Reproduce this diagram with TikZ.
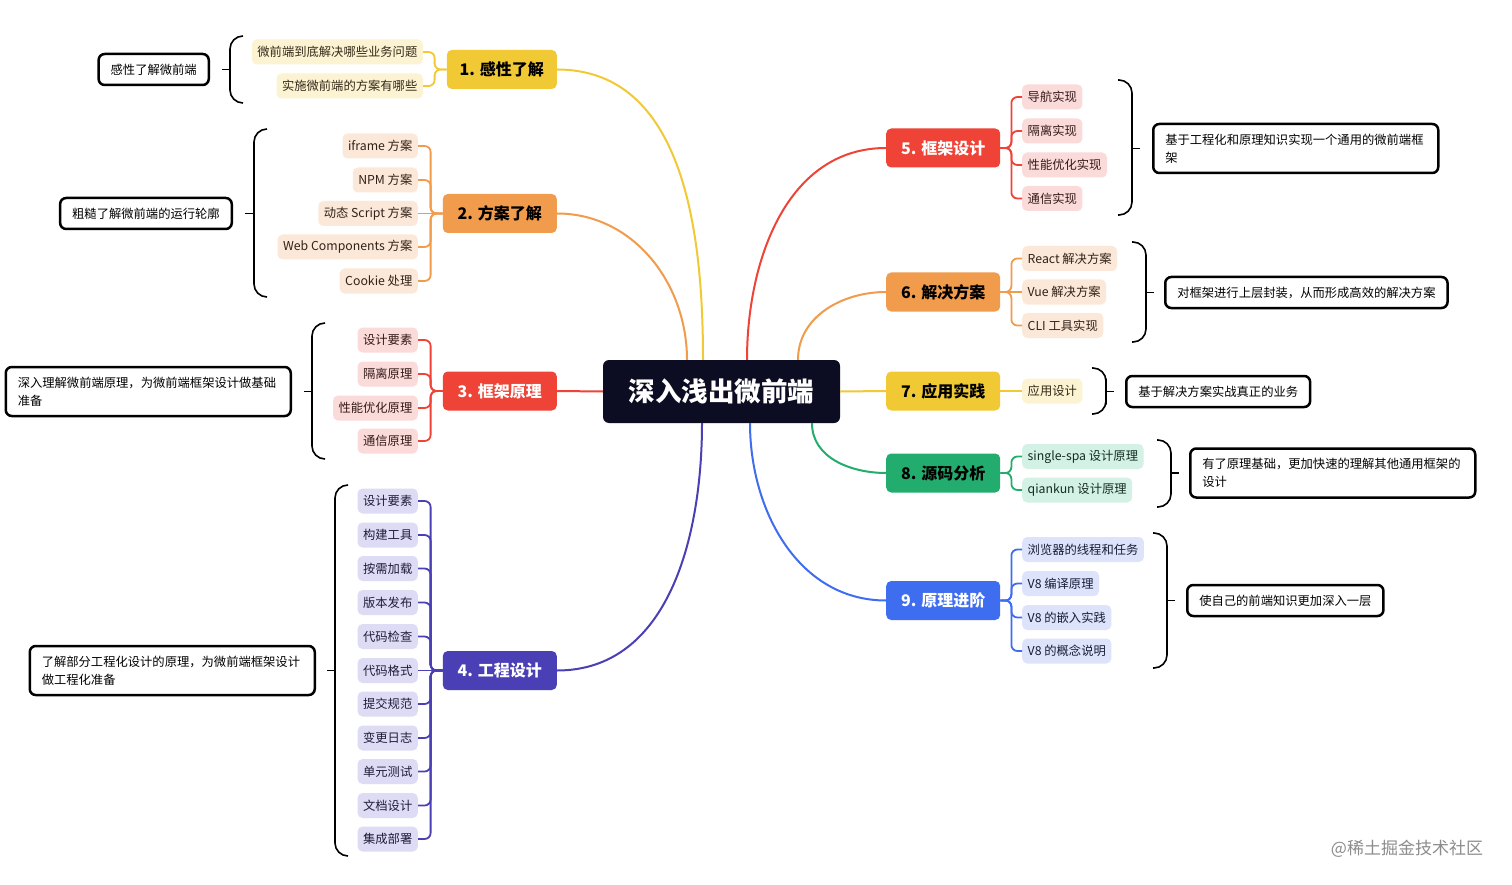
\documentclass[tikz,border=0pt]{standalone}
\usepackage{fontspec}
\setmainfont{Noto Sans CJK SC}
\usetikzlibrary{positioning}
\definecolor{ink}{RGB}{12,12,34}
\definecolor{cyel}{RGB}{241,201,52}
\definecolor{cora}{RGB}{241,155,76}
\definecolor{cred}{RGB}{238,67,54}
\definecolor{cind}{RGB}{74,63,181}
\definecolor{cgrn}{RGB}{34,173,110}
\definecolor{cblu}{RGB}{63,109,240}
\definecolor{lyel}{RGB}{252,243,211}
\definecolor{lora}{RGB}{252,232,216}
\definecolor{lred}{RGB}{251,218,218}
\definecolor{lind}{RGB}{222,220,245}
\definecolor{lgrn}{RGB}{211,241,228}
\definecolor{lblu}{RGB}{220,227,251}
\definecolor{dyel}{RGB}{50,42,24}
\definecolor{dora}{RGB}{48,34,24}
\definecolor{dred}{RGB}{52,26,26}
\definecolor{dind}{RGB}{30,28,56}
\definecolor{dgrn}{RGB}{22,44,34}
\definecolor{dblu}{RGB}{24,30,56}
\begin{document}
\begin{tikzpicture}[x=1pt,y=-1pt,
 rt/.style={fill=ink,text=white,rounded corners=6pt,minimum width=237pt,minimum height=63pt,font=\fontsize{26.5}{30}\selectfont\bfseries},
 tp/.style 2 args={fill=#1,text=#2,rounded corners=5pt,minimum width=114pt,minimum height=39pt,font=\fontsize{16}{19}\selectfont\bfseries},
 sb/.style 2 args={fill=#1,text=#2,rounded corners=5pt,inner xsep=5.5pt,inner ysep=0pt,minimum height=25pt,font=\fontsize{12.3}{15}\selectfont},
 sm/.style={draw=black,line width=2.5pt,rounded corners=6pt,fill=white,align=left,inner xsep=12pt,minimum height=31pt,font=\fontsize{12.3}{18}\selectfont},
 sw/.style={sm,text width=261pt,minimum height=49pt},
 ln/.style={draw=#1,line width=2pt},
 lk/.style={draw=#1,line width=1.8pt,rounded corners=6pt},
 br/.style={draw=black,line width=1.6pt,rounded corners=13pt}]
\fill[white] (0,0) rectangle (1512,885);
\useasboundingbox (0,0) rectangle (1512,885);
% root
\node[rt] (root) at (721.5,391.5) {深入浅出微前端};
% topics, left
\node[tp={cyel}{black},anchor=east,minimum width=110pt] (t1) at (557,69.5) {1. 感性了解};
\node[tp={cora}{black},anchor=east] (t2) at (557,213.5) {2. 方案了解};
\node[tp={cred}{white},anchor=east] (t3) at (557,391) {3. 框架原理};
\node[tp={cind}{white},anchor=east] (t4) at (557,670.5) {4. 工程设计};
% topics, right
\node[tp={cred}{white},anchor=west] (t5) at (886,148) {5. 框架设计};
\node[tp={cora}{black},anchor=west] (t6) at (886,292) {6. 解决方案};
\node[tp={cyel}{black},anchor=west] (t7) at (886,391) {7. 应用实践};
\node[tp={cgrn}{black},anchor=west] (t8) at (886,473) {8. 源码分析};
\node[tp={cblu}{white},anchor=west] (t9) at (886,600.5) {9. 原理进阶};
\draw[ln=cyel]([xshift=-18.5pt]root.north) to[out=90,in=0] (t1.east);
\draw[ln=cora]([xshift=-34.5pt]root.north) to[out=90,in=0] (t2.east);
\draw[ln=cred](root.west) -- (t3.east);
\draw[ln=cind]([xshift=-19.5pt]root.south) to[out=-90,in=0] (t4.east);
\draw[ln=cred]([xshift=25.5pt]root.north) to[out=90,in=180] (t5.west);
\draw[ln=cora]([xshift=76.5pt]root.north) to[out=90,in=180] (t6.west);
\draw[ln=cyel](root.east) -- (t7.west);
\draw[ln=cgrn]([xshift=90.5pt]root.south) to[out=-90,in=180] (t8.west);
\draw[ln=cblu]([xshift=28.5pt]root.south) to[out=-90,in=180] (t9.west);
% branch 1
\node[sb={lyel}{dyel},anchor=east] (c11) at (423,52) {微前端到底解决哪些业务问题};
\node[sb={lyel}{dyel},anchor=east] (c12) at (423,86) {实施微前端的方案有哪些};
\draw[lk=cyel](t1.west) -- ++(-12,0) |- (c11.east);\draw[lk=cyel](t1.west) -- ++(-12,0) |- (c12.east);
% branch 2
\node[sb={lora}{dora},anchor=east] (c21) at (418,146) {iframe 方案};
\node[sb={lora}{dora},anchor=east] (c22) at (418,180) {NPM 方案};
\node[sb={lora}{dora},anchor=east] (c23) at (418,213.5) {动态 Script 方案};
\node[sb={lora}{dora},anchor=east] (c24) at (418,247) {Web Components 方案};
\node[sb={lora}{dora},anchor=east] (c25) at (418,281) {Cookie 处理};
\draw[lk=cora](t2.west) -- ++(-12,0) |- (c21.east);\draw[lk=cora](t2.west) -- ++(-12,0) |- (c22.east);
\draw[lk=cora](t2.west) -- (c23.east);
\draw[lk=cora](t2.west) -- ++(-12,0) |- (c24.east);\draw[lk=cora](t2.west) -- ++(-12,0) |- (c25.east);
% branch 3
\node[sb={lred}{dred},anchor=east] (c31) at (418,340) {设计要素};
\node[sb={lred}{dred},anchor=east] (c32) at (418,374) {隔离原理};
\node[sb={lred}{dred},anchor=east] (c33) at (418,408) {性能优化原理};
\node[sb={lred}{dred},anchor=east] (c34) at (418,441) {通信原理};
\draw[lk=cred](t3.west) -- ++(-12,0) |- (c31.east);\draw[lk=cred](t3.west) -- ++(-12,0) |- (c32.east);
\draw[lk=cred](t3.west) -- ++(-12,0) |- (c33.east);\draw[lk=cred](t3.west) -- ++(-12,0) |- (c34.east);
% branch 4
\node[sb={lind}{dind},anchor=east] (c41) at (418,501) {设计要素};
\node[sb={lind}{dind},anchor=east] (c42) at (418,535) {构建工具};
\node[sb={lind}{dind},anchor=east] (c43) at (418,568.5) {按需加载};
\node[sb={lind}{dind},anchor=east] (c44) at (418,602.5) {版本发布};
\node[sb={lind}{dind},anchor=east] (c45) at (418,636.5) {代码检查};
\node[sb={lind}{dind},anchor=east] (c46) at (418,670.5) {代码格式};
\node[sb={lind}{dind},anchor=east] (c47) at (418,704) {提交规范};
\node[sb={lind}{dind},anchor=east] (c48) at (418,738) {变更日志};
\node[sb={lind}{dind},anchor=east] (c49) at (418,771.5) {单元测试};
\node[sb={lind}{dind},anchor=east] (c410) at (418,805.5) {文档设计};
\node[sb={lind}{dind},anchor=east] (c411) at (418,839) {集成部署};
\draw[lk=cind](t4.west) -- ++(-12,0) |- (c41.east);\draw[lk=cind](t4.west) -- ++(-12,0) |- (c42.east);
\draw[lk=cind](t4.west) -- ++(-12,0) |- (c43.east);\draw[lk=cind](t4.west) -- ++(-12,0) |- (c44.east);
\draw[lk=cind](t4.west) -- ++(-12,0) |- (c45.east);\draw[lk=cind](t4.west) -- (c46.east);
\draw[lk=cind](t4.west) -- ++(-12,0) |- (c47.east);\draw[lk=cind](t4.west) -- ++(-12,0) |- (c48.east);
\draw[lk=cind](t4.west) -- ++(-12,0) |- (c49.east);\draw[lk=cind](t4.west) -- ++(-12,0) |- (c410.east);
\draw[lk=cind](t4.west) -- ++(-12,0) |- (c411.east);
% branch 5
\node[sb={lred}{dred},anchor=west] (c51) at (1022,97) {导航实现};
\node[sb={lred}{dred},anchor=west] (c52) at (1022,131) {隔离实现};
\node[sb={lred}{dred},anchor=west] (c53) at (1022,165) {性能优化实现};
\node[sb={lred}{dred},anchor=west] (c54) at (1022,198.5) {通信实现};
\draw[lk=cred](t5.east) -- ++(11,0) |- (c51.west);\draw[lk=cred](t5.east) -- ++(11,0) |- (c52.west);
\draw[lk=cred](t5.east) -- ++(11,0) |- (c53.west);\draw[lk=cred](t5.east) -- ++(11,0) |- (c54.west);
% branch 6
\node[sb={lora}{dora},anchor=west] (c61) at (1022,258.5) {React 解决方案};
\node[sb={lora}{dora},anchor=west] (c62) at (1022,292) {Vue 解决方案};
\node[sb={lora}{dora},anchor=west] (c63) at (1022,325.5) {CLI 工具实现};
\draw[lk=cora](t6.east) -- ++(11,0) |- (c61.west);\draw[lk=cora](t6.east) -- (c62.west);
\draw[lk=cora](t6.east) -- ++(11,0) |- (c63.west);
% branch 7
\node[sb={lyel}{dyel},anchor=west] (c71) at (1022,391) {应用设计};
\draw[lk=cyel](t7.east) -- (c71.west);
% branch 8
\node[sb={lgrn}{dgrn},anchor=west] (c81) at (1022,456.5) {single-spa 设计原理};
\node[sb={lgrn}{dgrn},anchor=west] (c82) at (1022,490) {qiankun 设计原理};
\draw[lk=cgrn](t8.east) -- ++(11,0) |- (c81.west);\draw[lk=cgrn](t8.east) -- ++(11,0) |- (c82.west);
% branch 9
\node[sb={lblu}{dblu},anchor=west] (c91) at (1022,549.5) {浏览器的线程和任务};
\node[sb={lblu}{dblu},anchor=west] (c92) at (1022,583.5) {V8 编译原理};
\node[sb={lblu}{dblu},anchor=west] (c93) at (1022,617.5) {V8 的嵌入实践};
\node[sb={lblu}{dblu},anchor=west] (c94) at (1022,651) {V8 的概念说明};
\draw[lk=cblu](t9.east) -- ++(11,0) |- (c91.west);\draw[lk=cblu](t9.east) -- ++(11,0) |- (c92.west);
\draw[lk=cblu](t9.east) -- ++(11,0) |- (c93.west);\draw[lk=cblu](t9.east) -- ++(11,0) |- (c94.west);
% summaries
\node[sm,anchor=east] (s1) at (210,69.5) {感性了解微前端};
\node[sm,anchor=east] (s2) at (233,213.5) {粗糙了解微前端的运行轮廓};
\node[sw,anchor=east] (s3) at (292,391.5) {深入理解微前端原理，为微前端框架设计做基础\\准备};
\node[sw,anchor=east] (s4) at (316,670.5) {了解部分工程化设计的原理，为微前端框架设计\\做工程化准备};
\node[sw,anchor=west] (s5) at (1152,148.5) {基于工程化和原理知识实现一个通用的微前端框\\架};
\node[sm,anchor=west] (s6) at (1164,292.5) {对框架进行上层封装，从而形成高效的解决方案};
\node[sm,anchor=west] (s7) at (1125,391.5) {基于解决方案实战真正的业务};
\node[sw,anchor=west] (s8) at (1189,473) {有了原理基础，更加快速的理解其他通用框架的\\设计};
\node[sm,anchor=west] (s9) at (1186,600.5) {使自己的前端知识更加深入一层};
% braces
\draw[br](243,36) -| (230,69.5) |- (243,103);\draw[br](222,69.5) -- (230,69.5);
\draw[br](267,129) -| (254,213.5) |- (267,297);\draw[br](245,213.5) -- (254,213.5);
\draw[br](325,323) -| (312,391.5) |- (325,459);\draw[br](304,391.5) -- (312,391.5);
\draw[br](348,485) -| (335,670.5) |- (348,856);\draw[br](327,670.5) -- (335,670.5);
\draw[br](1118,80) -| (1132,148.5) |- (1118,215);\draw[br](1132,148.5) -- (1140,148.5);
\draw[br](1132,242) -| (1146,292.5) |- (1132,342);\draw[br](1146,292.5) -- (1154,292.5);
\draw[br](1092,368) -| (1106,391.5) |- (1092,414);\draw[br](1106,391.5) -- (1114,391.5);
\draw[br](1157,440) -| (1171,473) |- (1157,507);\draw[br](1171,473) -- (1179,473);
\draw[br](1153,533) -| (1167,600.5) |- (1153,668);\draw[br](1167,600.5) -- (1175,600.5);
\node[text=black!45,font=\fontsize{17}{20}\selectfont] (wm) at (1407,849) {@稀土掘金技术社区};
\end{tikzpicture}
\end{document}
